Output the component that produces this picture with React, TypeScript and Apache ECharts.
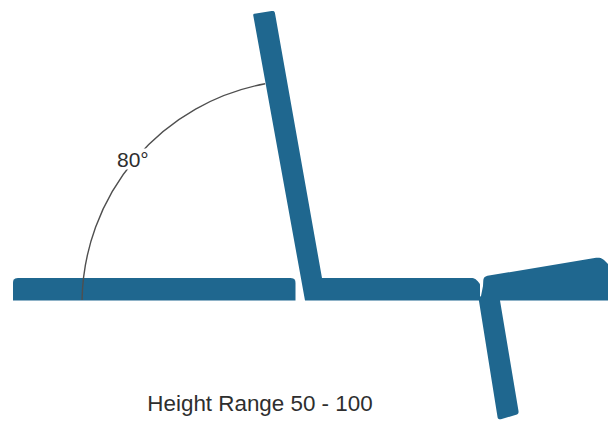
import React, { useEffect, useRef } from "react";
import * as echarts from "echarts";

const WIDTH = 608;
const HEIGHT = 421;

// Diagram outline vertices: [x, y, corner radius]
const groundLeft = [
  [13, 300.5, 0], [13, 278, 5], [295.5, 278, 5], [295.5, 300.5, 0],
];
const wallAndGround = [
  [253, 14, 1.5], [274.5, 10.5, 3], [322, 278, 0], [475, 278, 4], [480, 284, 1],
  [480, 300.5, 0], [305, 300.5, 0],
];
const stepAndLeg = [
  [483, 286, 0], [483.5, 276.5, 4], [601, 257, 5], [608, 264, 0], [608, 300.5, 0],
  [500, 300.5, 0], [519, 414, 3], [498, 420, 3], [478.5, 298, 0], [481, 296, 0],
];
const shapes = [groundLeft, wallAndGround, stepAndLeg];

const angleCentre = [306, 304];
const angleRadius = 224;
const angleStartDeg = 181;
const angleEndDeg = 259.5;

const angleLabel = "80°";
const caption = "Height Range 50 - 100";

const BAR_COLOR = "#1F678F";
const LINE_COLOR = "#4F4F4F";
const TEXT_COLOR = "#2E2E2E";
const FONT = '"Liberation Sans", Arial, sans-serif';

function roundedPoints(pts: number[][], radii: number[]) {
  const n = pts.length;
  const out: number[][] = [];
  for (let i = 0; i < n; i++) {
    const p = pts[i];
    const a = pts[(i + n - 1) % n];
    const b = pts[(i + 1) % n];
    const r = radii[i];
    if (!r) {
      out.push(p);
      continue;
    }
    const la = Math.hypot(a[0] - p[0], a[1] - p[1]);
    const lb = Math.hypot(b[0] - p[0], b[1] - p[1]);
    const s = [p[0] + ((a[0] - p[0]) * r) / la, p[1] + ((a[1] - p[1]) * r) / la];
    const e = [p[0] + ((b[0] - p[0]) * r) / lb, p[1] + ((b[1] - p[1]) * r) / lb];
    for (let k = 0; k <= 6; k++) {
      const t = k / 6;
      const u = 1 - t;
      out.push([
        u * u * s[0] + 2 * u * t * p[0] + t * t * e[0],
        u * u * s[1] + 2 * u * t * p[1] + t * t * e[1],
      ]);
    }
  }
  return out;
}

export default function App() {
  const ref = useRef<HTMLDivElement>(null);
  useEffect(() => {
    document.body.style.margin = "0";
    const chart = echarts.init(ref.current!, null, { renderer: "svg" });
    chart.setOption({
      animation: false,
      backgroundColor: "#ffffff",
      grid: { left: 0, right: 0, top: 0, bottom: 0 },
      xAxis: { type: "value", min: 0, max: WIDTH, show: false },
      yAxis: { type: "value", min: 0, max: HEIGHT, inverse: true, show: false },
      series: [
        {
          type: "custom",
          coordinateSystem: "cartesian2d",
          silent: true,
          clip: false,
          z: 2,
          data: shapes.map((_, i) => [i]),
          encode: { x: 0 },
          renderItem: (_p: any, api: any) => {
            const shape = shapes[api.value(0)];
            const pts = shape.map((v) => api.coord([v[0], v[1]]));
            return {
              type: "polygon",
              shape: { points: roundedPoints(pts, shape.map((v) => v[2])) },
              style: { fill: BAR_COLOR },
            };
          },
        },
        {
          type: "custom",
          coordinateSystem: "cartesian2d",
          silent: true,
          clip: false,
          z: 3,
          data: [[angleCentre[0], angleCentre[1]]],
          encode: { x: 0, y: 1 },
          renderItem: (_p: any, api: any) => {
            const c = api.coord([api.value(0), api.value(1)]);
            return {
              type: "arc",
              shape: {
                cx: c[0],
                cy: c[1],
                r: angleRadius,
                startAngle: (angleStartDeg * Math.PI) / 180,
                endAngle: (angleEndDeg * Math.PI) / 180,
                clockwise: true,
              },
              style: { stroke: LINE_COLOR, lineWidth: 1.4, fill: "none" },
            };
          },
        },
      ],
      graphic: [
        {
          type: "text",
          x: 117,
          y: 159,
          z: 10,
          style: {
            text: angleLabel,
            font: `21px ${FONT}`,
            fill: TEXT_COLOR,
            verticalAlign: "middle",
            backgroundColor: "#ffffff",
          },
        },
        {
          type: "text",
          x: 260,
          y: 403,
          z: 10,
          style: {
            text: caption,
            font: `22.4px ${FONT}`,
            fill: TEXT_COLOR,
            align: "center",
            verticalAlign: "middle",
          },
        },
      ],
    });
    return () => chart.dispose();
  }, []);
  return <div ref={ref} style={{ width: WIDTH, height: HEIGHT }} />;
}
